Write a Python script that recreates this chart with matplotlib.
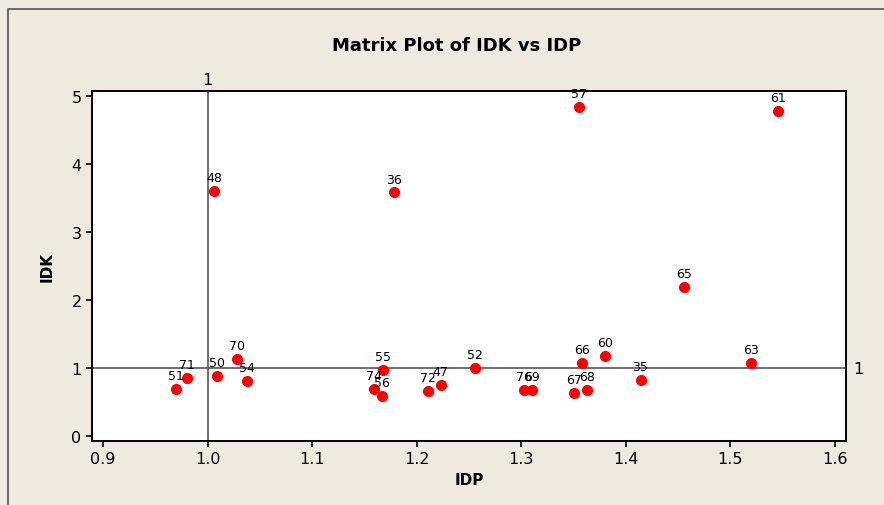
import matplotlib.pyplot as plt
from matplotlib.patches import Rectangle

# donnees
labels = ["51", "71", "50", "70", "54", "48", "36", "55", "74", "56", "72", "47",
          "52", "76", "69", "66", "60", "67", "68", "35", "57", "61", "65", "63"]
idp = [0.970, 0.980, 1.009, 1.028, 1.038, 1.006, 1.178, 1.168, 1.159, 1.167, 1.211, 1.223,
       1.256, 1.303, 1.310, 1.358, 1.380, 1.350, 1.363, 1.414, 1.355, 1.545, 1.456, 1.520]
idk = [0.69, 0.86, 0.89, 1.13, 0.81, 3.60, 3.58, 0.98, 0.69, 0.59, 0.67, 0.75,
       1.00, 0.68, 0.68, 1.07, 1.18, 0.63, 0.68, 0.82, 4.84, 4.77, 2.19, 1.07]

bg = "#EEEAE0"
W, H = 884, 506

fig = plt.figure(figsize=(W / 100, H / 100), dpi=100)
fig.patch.set_facecolor(bg)
fig.patches.append(Rectangle((8 / W, -0.1), 1.2, 1 - 10 / H + 0.1, transform=fig.transFigure,
                             fill=False, edgecolor="#555555", linewidth=1.2))

ax = fig.add_axes([92 / W, 1 - 442 / H, (846 - 92) / W, (442 - 92) / H])
ax.set_facecolor("white")

ax.axvline(1.0, color="#555555", linewidth=1.2, zorder=1)
ax.axhline(1.0, color="#555555", linewidth=1.2, zorder=1)

ax.plot(idp, idk, "o", color="#FF0000", markersize=7, zorder=3)
for x, y, s in zip(idp, idk, labels):
    ax.annotate(s, (x, y), xytext=(0, 5), textcoords="offset points",
                ha="center", va="bottom", fontsize=9)

ax.set_xlim(0.8895, 1.6105)
ax.set_ylim(-0.07, 5.07)
ax.set_xticks([0.9, 1.0, 1.1, 1.2, 1.3, 1.4, 1.5, 1.6])
ax.set_xticklabels(["0.9", "1.0", "1.1", "1.2", "1.3", "1.4", "1.5", "1.6"])
ax.set_yticks([0, 1, 2, 3, 4, 5])
ax.tick_params(labelsize=11.5, direction="out", length=4, width=1.2)
for sp in ax.spines.values():
    sp.set_linewidth(1.4)

ax.text(1.0, 1.01, "1", transform=ax.get_xaxis_transform(), ha="center", va="bottom", fontsize=11.5)
ax.text(1.01, 1.0, "1", transform=ax.get_yaxis_transform(), ha="left", va="center", fontsize=11.5)

ax.set_xlabel("IDP", fontsize=11, fontweight="bold", labelpad=4)
ax.set_ylabel("IDK", fontsize=11, fontweight="bold", labelpad=12)
fig.text(457 / W, 1 - 46 / H, "Matrix Plot of IDK vs IDP", ha="center", va="center",
         fontsize=13, fontweight="bold")

fig.savefig("out.png", dpi=100, facecolor=bg)
